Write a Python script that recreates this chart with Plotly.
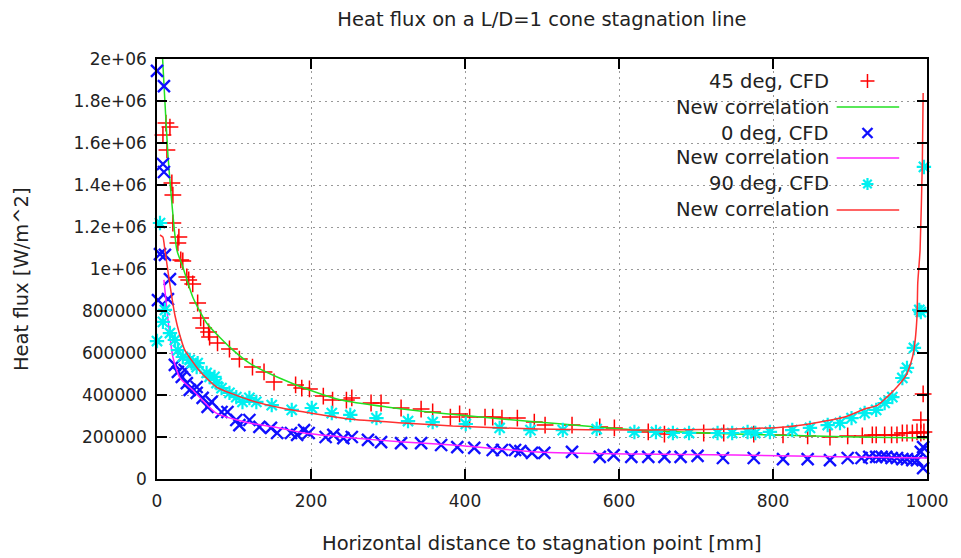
import plotly.graph_objects as go

# ---------------- data ----------------
x45 = [7.7, 11.6, 16.8, 12.9, 19.3, 20.6, 20.6, 28.4, 27.1, 30.9, 33.5, 38.7, 41.2, 46.4, 52.8, 56.7,
       60.6, 67.0, 68.3, 78.6, 94.1, 107, 124, 139, 152, 180, 188, 198, 216, 228, 246, 253, 278, 291,
       317, 343, 358, 381, 393, 406, 426, 436, 448, 468, 490, 504, 539, 575, 594, 638, 659, 710, 736,
       775, 813, 845, 874, 897, 916, 929, 934, 945, 954, 961, 968, 974, 981, 987, 992, 996, 992, 995]
y45 = [1638e3, 1695e3, 1676e3, 1567e3, 1410e3, 1352e3, 1219e3, 1152e3, 1124e3, 1043e3, 1038e3, 962e3,
       948e3, 929e3, 838e3, 767e3, 719e3, 700e3, 676e3, 648e3, 619e3, 571e3, 533e3, 510e3, 462e3, 448e3,
       433e3, 429e3, 395e3, 376e3, 376e3, 386e3, 362e3, 362e3, 338e3, 333e3, 319e3, 295e3, 310e3, 295e3,
       295e3, 295e3, 290e3, 290e3, 271e3, 257e3, 257e3, 248e3, 243e3, 224e3, 214e3, 219e3, 219e3, 214e3,
       210e3, 205e3, 200e3, 205e3, 205e3, 210e3, 210e3, 210e3, 210e3, 210e3, 219e3, 219e3, 219e3, 224e3,
       219e3, 224e3, 281e3, 405e3]

x45_corr = [6.0, 7.3, 10.3, 14.2, 19.3, 25.8, 33.5, 46.4, 64.4, 94.1, 120, 159, 198, 239, 298, 365,
            494, 622, 751, 906, 1000]
y45_corr = [2100e3, 2000e3, 1795e3, 1543e3, 1314e3, 1090e3, 1010e3, 867e3, 743e3, 629e3, 552e3, 481e3,
            424e3, 376e3, 343e3, 314e3, 271e3, 233e3, 214e3, 200e3, 195e3]

x0 = [0, 9, 7.7, 9, 3.9, 10.3, 16.8, 1.3, 14.2, 23.2, 27.1, 32.2, 36, 38.7, 42.5, 51.5, 51.5, 59.3, 65.7,
      70.9, 83.8, 91.5, 103, 107, 120, 133, 148, 156, 174, 182, 191, 197, 219, 229, 242, 253, 274, 291,
      317, 343, 369, 390, 412, 436, 448, 465, 472, 487, 503, 539, 575, 593, 616, 638, 659, 680, 702, 735,
      775, 813, 845, 874, 897, 915, 925, 934, 941, 947, 954, 961, 968, 974, 981, 987, 992, 995, 995]
y0 = [1943e3, 1871e3, 1500e3, 1462e3, 1071e3, 1067e3, 952e3, 852e3, 857e3, 543e3, 510e3, 486e3, 519e3,
      457e3, 424e3, 438e3, 410e3, 386e3, 343e3, 367e3, 319e3, 319e3, 281e3, 257e3, 281e3, 248e3, 243e3,
      219e3, 219e3, 210e3, 233e3, 219e3, 200e3, 210e3, 195e3, 200e3, 186e3, 176e3, 171e3, 171e3, 162e3,
      152e3, 148e3, 138e3, 138e3, 138e3, 133e3, 124e3, 124e3, 129e3, 105e3, 114e3, 105e3, 105e3, 105e3,
      105e3, 110e3, 100e3, 100e3, 95e3, 95e3, 90e3, 100e3, 100e3, 105e3, 105e3, 105e3, 105e3, 100e3,
      100e3, 95e3, 95e3, 90e3, 90e3, 129e3, 152e3, 52e3]

x0_corr = [9, 12.9, 20.6, 30, 46.4, 77, 120, 159, 191, 255, 320, 384, 494, 622, 751, 906, 1000]
y0_corr = [948e3, 805e3, 581e3, 480e3, 424e3, 314e3, 267e3, 243e3, 219e3, 195e3, 176e3, 162e3, 129e3,
           119e3, 114e3, 105e3, 100e3]

x90 = [0, 3.9, 10.3, 7.7, 16.8, 23.2, 27.1, 33.5, 42.5, 45, 52.8, 51.5, 64.4, 68.3, 74.7, 77.3, 83.8,
       94.1, 103, 111, 120, 129, 149, 175, 201, 227, 251, 285, 326, 358, 401, 445, 485, 527, 571, 620,
       648, 670, 691, 728, 747, 767, 777, 796, 825, 848, 871, 887, 902, 919, 934, 945, 955, 968, 974,
       983, 990, 992, 996]
y90 = [657e3, 1219e3, 805e3, 748e3, 695e3, 662e3, 614e3, 581e3, 567e3, 552e3, 552e3, 533e3, 505e3,
       486e3, 486e3, 457e3, 433e3, 410e3, 390e3, 367e3, 386e3, 367e3, 352e3, 329e3, 338e3, 314e3, 305e3,
       290e3, 276e3, 271e3, 262e3, 243e3, 233e3, 233e3, 238e3, 224e3, 224e3, 219e3, 219e3, 219e3, 219e3,
       224e3, 219e3, 224e3, 233e3, 243e3, 257e3, 267e3, 290e3, 314e3, 329e3, 362e3, 390e3, 481e3, 529e3,
       624e3, 805e3, 795e3, 1486e3]

x90_corr = [3.9, 7.7, 10.3, 16.8, 23.2, 29.6, 36.1, 55.4, 77.3, 120, 162, 249, 320, 384, 494, 622, 751,
            816, 854, 893, 919, 936, 948, 961, 973, 979, 983, 987, 988, 991, 994, 995]
y90_corr = [1162e3, 1152e3, 1090e3, 924e3, 781e3, 686e3, 614e3, 514e3, 438e3, 376e3, 338e3, 286e3,
            267e3, 252e3, 238e3, 233e3, 238e3, 248e3, 267e3, 295e3, 333e3, 352e3, 390e3, 438e3, 495e3,
            552e3, 614e3, 771e3, 933e3, 1090e3, 1519e3, 1838e3]

x_ticks = [0, 200, 400, 600, 800, 1000]
y_ticks = [0, 200000, 400000, 600000, 800000, 1000000, 1200000, 1400000, 1600000, 1800000, 2000000]
y_tick_text = ["0", "200000", "400000", "600000", "800000", "1e+06", "1.2e+06", "1.4e+06",
               "1.6e+06", "1.8e+06", "2e+06"]

legend_labels = ["45 deg, CFD", "New correlation", "0 deg, CFD", "New correlation",
                 "90 deg, CFD", "New correlation"]

# ---------------- styles ----------------
FONT = "DejaVu Sans"
TXT = "#222222"
RED = "#ff0000"
GREEN = "#22e022"
BLUE = "#1010ff"
MAGENTA = "#ff22ff"
CYAN = "#00f0f0"
REDLINE = "#ff3030"
LBL = 19.5
TICK = 17

m45 = dict(symbol="cross-thin", size=12, color=RED, line=dict(color=RED, width=1.5))
m0 = dict(symbol="x-thin", size=12, color=BLUE, line=dict(color=BLUE, width=2.4))
m90 = dict(symbol="asterisk", size=12, color=CYAN, line=dict(color=CYAN, width=2.2))

fig = go.Figure()
fig.add_trace(go.Scatter(x=x45, y=y45, mode="markers", marker=m45, cliponaxis=False, showlegend=False))
fig.add_trace(go.Scatter(x=x45_corr, y=y45_corr, mode="lines",
                         line=dict(color=GREEN, width=1.5, shape="spline", smoothing=0.6), showlegend=False))
fig.add_trace(go.Scatter(x=x0, y=y0, mode="markers", marker=m0, cliponaxis=False, showlegend=False))
fig.add_trace(go.Scatter(x=x0_corr, y=y0_corr, mode="lines",
                         line=dict(color=MAGENTA, width=1.5, shape="spline", smoothing=0.6), showlegend=False))
fig.add_trace(go.Scatter(x=x90, y=y90, mode="markers", marker=m90, cliponaxis=False, showlegend=False))
fig.add_trace(go.Scatter(x=x90_corr, y=y90_corr, mode="lines",
                         line=dict(color=REDLINE, width=1.5, shape="spline", smoothing=0.5), showlegend=False))

# ---------------- custom gnuplot-style legend (text right, sample at right) ----------------
row_y = [0.9476, 0.8857, 0.8238, 0.7643, 0.7024, 0.6405]
text_x = 0.875
samp_x = 0.9227
line_x0, line_x1 = 0.8827, 0.9639
for lbl, yy in zip(legend_labels, row_y):
    fig.add_annotation(x=text_x, y=yy, xref="paper", yref="paper", text=lbl, showarrow=False,
                       xanchor="right", yanchor="middle", font=dict(family=FONT, size=LBL, color=TXT))
for yy, col in [(row_y[1], GREEN), (row_y[3], MAGENTA), (row_y[5], REDLINE)]:
    fig.add_shape(type="line", xref="paper", yref="paper", x0=line_x0, x1=line_x1, y0=yy, y1=yy,
                  line=dict(color=col, width=1.5))
for yy, mk in [(row_y[0], m45), (row_y[2], m0), (row_y[4], m90)]:
    fig.add_trace(go.Scatter(x=[samp_x], y=[yy], xaxis="x2", yaxis="y2", mode="markers",
                             marker=dict(mk, size=10), showlegend=False, hoverinfo="skip"))

grid = dict(showgrid=True, gridcolor="#999999", griddash="2px,4px", gridwidth=1)
fig.update_layout(
    width=961, height=558,
    margin=dict(l=157, r=28, t=59, b=79),
    paper_bgcolor="white", plot_bgcolor="white",
    font=dict(family=FONT, size=TICK, color=TXT),
    title=dict(text="Heat flux on a L/D=1 cone stagnation line", x=0.5, xref="paper",
               y=1 - 19 / 558, yref="container", xanchor="center", yanchor="middle",
               font=dict(family=FONT, size=LBL, color=TXT)),
    xaxis=dict(range=[0, 1000], tickvals=x_ticks, ticks="inside", ticklen=10, tickwidth=1.5,
               tickcolor="black", showline=True, linecolor="black", linewidth=1.5, mirror="allticks",
               zeroline=False, ticklabelstandoff=6, **grid),
    yaxis=dict(range=[0, 2000000], tickvals=y_ticks, ticktext=y_tick_text, ticks="inside", ticklen=10,
               tickwidth=1.5, tickcolor="black", showline=True, linecolor="black", linewidth=1.5,
               mirror="allticks", zeroline=False, ticklabelstandoff=5, **grid),
    xaxis2=dict(range=[0, 1], overlaying="x", visible=False, domain=[0, 1]),
    yaxis2=dict(range=[0, 1], overlaying="y", visible=False),
    showlegend=False,
)
fig.add_annotation(x=0.5, y=-(543 - 479) / 420, xref="paper", yref="paper",
                   text="Horizontal distance to stagnation point [mm]", showarrow=False,
                   xanchor="center", yanchor="middle", font=dict(family=FONT, size=LBL, color=TXT))
fig.add_annotation(x=-(157 - 20) / 776, y=(479 - 279) / 420, xref="paper", yref="paper",
                   text="Heat flux [W/m^2]", showarrow=False, textangle=-90, xanchor="center",
                   yanchor="middle", font=dict(family=FONT, size=LBL, color=TXT))

fig.write_html("out.html")
